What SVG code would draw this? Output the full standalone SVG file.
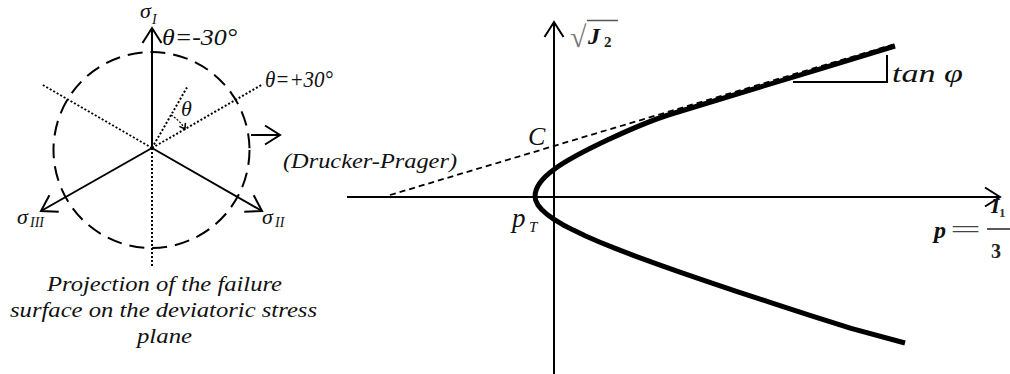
<svg xmlns="http://www.w3.org/2000/svg" width="1010" height="374" viewBox="0 0 1010 374">
<style>
.t{font-family:"Liberation Serif","Times New Roman",serif;font-style:italic;fill:#111}
.ax{stroke:#000;stroke-width:2;fill:none}
.dot{stroke:#000;stroke-width:2;fill:none;stroke-dasharray:2 2}
.dash{stroke:#000;stroke-width:2;fill:none;stroke-dasharray:15 8}
.dp{stroke:#000;stroke-width:1.8;fill:none;stroke-dasharray:6 4}
.curve{stroke:#000;stroke-width:5;fill:none;stroke-linejoin:round;stroke-linecap:butt}
</style>
<defs>
<marker id="chev" markerUnits="userSpaceOnUse" markerWidth="40" markerHeight="40" viewBox="-20 -20 40 40" refX="0" refY="0" orient="auto">
<path d="M-15,-9.5 L0,0 L-15,9.5" fill="none" stroke="#000" stroke-width="2"/>
</marker>
<marker id="small" markerUnits="userSpaceOnUse" markerWidth="20" markerHeight="20" viewBox="-10 -10 20 20" refX="0" refY="0" orient="auto">
<path d="M-5,-3.5 L0,0 L-5,3.5" fill="none" stroke="#000" stroke-width="1.5"/>
</marker>
</defs>

<g id="deviatoric-plane">
<circle class="dash" cx="151.5" cy="150" r="98"/>
<line class="dot" x1="152" y1="148" x2="152" y2="268"/>
<line class="dot" x1="152" y1="148" x2="42" y2="84.5"/>
<line class="dot" x1="152" y1="148" x2="263" y2="84"/>
<line class="dot" x1="152" y1="148" x2="187" y2="87.4"/>
</g>

<g id="connectors">
<line class="ax" x1="152" y1="148" x2="152" y2="28" marker-end="url(#chev)"/>
<line class="ax" x1="152" y1="148" x2="262" y2="211" marker-end="url(#chev)"/>
<line class="ax" x1="152" y1="148" x2="41" y2="211" marker-end="url(#chev)"/>
<path d="M171,115.1 A38,38 0 0 1 184.9,129" fill="none" stroke="#000" stroke-width="1.2" stroke-dasharray="2 1.5" marker-end="url(#small)"/>
<line class="ax" x1="251" y1="135" x2="280" y2="135" marker-end="url(#chev)"/>
<line class="ax" x1="554" y1="374" x2="554" y2="22" marker-end="url(#chev)"/>
<line class="ax" x1="347" y1="197" x2="1000" y2="197" marker-end="url(#chev)"/>
<line class="dp" x1="390" y1="195" x2="895" y2="44"/>
<path class="ax" d="M793,82 H887 V55"/>
</g>

<g id="failure-curve">
<path class="curve" d="M905,343 L851.1,328.4 L809.2,315.1 L771.6,302.9 L737.9,291.8 L707.6,281.7 L680.6,272.4 L656.6,263.9 L635.3,256.1 L616.5,248.9 L600,242.2 L585.6,236 L573.3,230.1 L562.8,224.7 L554.1,219.4 L547.2,214.5 L541.8,209.7 L538,205.1 L535.75,200.5 L535,196.5 C535,186 545,176 554,169.5 C574,154.5 638,124.1 673,113.5 C720,99.3 820,69 895,46"/>
</g>

<g id="labels-left">
<text class="t" x="140" y="18" font-size="22">σ</text>
<text class="t" x="152" y="24" font-size="14">I</text>
<text class="t" x="162" y="45" font-size="24" textLength="75" lengthAdjust="spacingAndGlyphs">θ=-30°</text>
<text class="t" x="265" y="87" font-size="24" textLength="68" lengthAdjust="spacingAndGlyphs">θ=+30°</text>
<text class="t" x="181" y="116" font-size="22">θ</text>
<text class="t" x="283" y="168" font-size="22" textLength="174" lengthAdjust="spacingAndGlyphs">(Drucker-Prager)</text>
<text class="t" x="17" y="224" font-size="22">σ</text>
<text class="t" x="30" y="227" font-size="14">III</text>
<text class="t" x="262" y="224" font-size="22">σ</text>
<text class="t" x="275" y="227" font-size="14">II</text>
<text class="t" x="164.5" y="291" font-size="22" text-anchor="middle" textLength="235" lengthAdjust="spacingAndGlyphs">Projection of the failure</text>
<text class="t" x="163.5" y="317" font-size="22" text-anchor="middle" textLength="307" lengthAdjust="spacingAndGlyphs">surface on the deviatoric stress</text>
<text class="t" x="164.5" y="343" font-size="22" text-anchor="middle" textLength="55" lengthAdjust="spacingAndGlyphs">plane</text>
</g>

<g id="labels-right">
<text class="t" x="528" y="145" font-size="26">C</text>
<text class="t" x="512" y="227" font-size="27">p</text>
<text class="t" x="529" y="232" font-size="15">T</text>
<text class="t" x="892" y="82" font-size="25" textLength="71" lengthAdjust="spacingAndGlyphs">tan φ</text>
<g id="sqrtJ2">
<text x="570" y="47" font-family="Liberation Serif, serif" font-size="30" fill="#777">√</text>
<line x1="587" y1="20.5" x2="618" y2="20.5" stroke="#555" stroke-width="1.5"/>
<text class="t" x="588" y="44" font-size="24" font-weight="bold" fill="#222">J</text>
<text x="604" y="47" font-family="Liberation Serif, serif" font-size="15" font-weight="bold" fill="#222">2</text>
</g>
<g id="p-label">
<text class="t" x="934" y="238" font-size="24" font-weight="bold" fill="#333">p</text>
<text x="950" y="238" font-family="Liberation Serif, serif" font-size="26" fill="#444" textLength="31" lengthAdjust="spacingAndGlyphs">=</text>
<line x1="987" y1="229" x2="1010" y2="229" stroke="#222" stroke-width="1.5"/>
<text class="t" x="991" y="213" font-size="22" font-weight="bold" fill="#333">I</text>
<text x="999" y="217" font-family="Liberation Serif, serif" font-size="13" font-weight="bold" fill="#333">1</text>
<text x="991" y="258" font-family="Liberation Serif, serif" font-size="20" font-weight="bold" fill="#222">3</text>
</g>
</g>
</svg>
